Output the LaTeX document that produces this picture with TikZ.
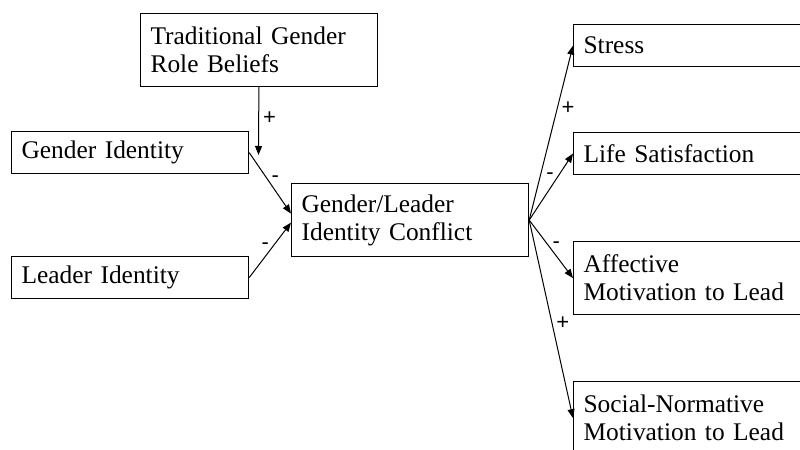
\documentclass[tikz,border=0pt]{standalone}
\usepackage{fontspec}
\setmainfont{Liberation Serif}
\newfontfamily\signfont{Liberation Sans}
\usetikzlibrary{arrows.meta,positioning}

\begin{document}
\begin{tikzpicture}[x=0.5pt,y=-0.5pt,
  box/.style={draw, line width=0.6pt, anchor=north west, align=left, inner xsep=5pt, inner ysep=0pt,
    text width=108.5pt, minimum height=21pt, font=\fontsize{12.7}{14}\selectfont},
  tall/.style={box, minimum height=36.5pt},
  link/.style={-{Triangle[length=4.5pt,width=3.5pt]}, line width=0.5pt},
  sign/.style={font=\signfont\fontsize{11}{12}\selectfont, inner sep=2pt}]
\useasboundingbox (0,0) rectangle (800,450);
\clip (0,0) rectangle (800,450);
% predictors and moderator
\node[tall] (beliefs) at (140,13) {Traditional Gender\\Role Beliefs};
\node[box] (gender) at (11,131) {Gender Identity};
\node[box] (leader) at (11,256) {Leader Identity};
\node[tall] (conflict) at (291,183) {Gender/Leader\\Identity Conflict};
\coordinate (moderate) at (258.5,155);
% outcomes, cut off at the right edge
\node[box] (stress) at (573,24) {Stress};
\node[box] (life) at (573,132) {Life Satisfaction};
\node[tall] (affective) at (573,241) {Affective\\Motivation to Lead};
\node[tall] (social) at (573,381) {Social-Normative\\Motivation to Lead};
\draw[link] (beliefs) -- node[sign,pos=0.45,right]{+} (moderate);
\draw[link] (gender.east) -- node[sign,pos=0.43,right]{-} ([yshift=3.25pt]conflict.west);
\draw[link] (leader.east) -- node[sign,pos=0.58,left]{-} ([yshift=-1.25pt]conflict.west);
\draw[link] (conflict.east) -- node[sign,pos=0.64,right]{+} (stress.west);
\draw[link] (conflict.east) -- node[sign,pos=0.66,left]{-} (life.west);
\draw[link] (conflict.east) -- node[sign,pos=0.43,right]{-} (affective.west);
\draw[link] (conflict.east) -- node[sign,pos=0.52,right]{+} (social.west);
\end{tikzpicture}
\end{document}
